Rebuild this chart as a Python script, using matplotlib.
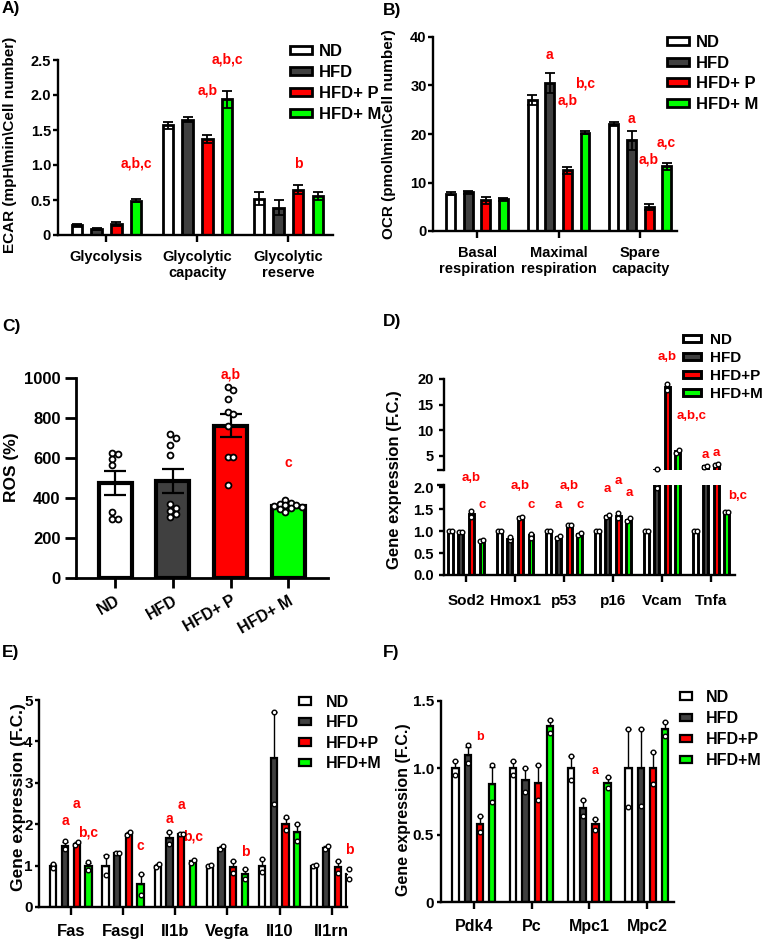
import numpy as np
import matplotlib
matplotlib.use('Agg')
import matplotlib.pyplot as plt

plt.rcParams['font.family'] = ['Liberation Sans', 'DejaVu Sans']
plt.rcParams['font.weight'] = 'bold'
plt.rcParams['axes.labelweight'] = 'bold'

# ---------------- data ----------------
groups_ab = ['ND', 'HFD', 'HFD+ P', 'HFD+ M']
groups_def = ['ND', 'HFD', 'HFD+P', 'HFD+M']
colors = ['white', '#404040', '#ff0000', '#00ff00']

# A) ECAR
ecar_cats = ['Glycolysis', 'Glycolytic\ncapacity', 'Glycolytic\nreserve']
ecar_nd = [0.14, 1.57, 0.52]
ecar_hfd = [0.08, 1.65, 0.39]
ecar_p = [0.16, 1.37, 0.65]
ecar_m = [0.49, 1.94, 0.56]
ecar_nd_err = [0.02, 0.05, 0.09]
ecar_hfd_err = [0.015, 0.04, 0.11]
ecar_p_err = [0.03, 0.06, 0.07]
ecar_m_err = [0.02, 0.12, 0.06]
ecar_notes = [('a,b,c', 0, 3, 1.02), ('a,b', 1, 2, 2.06), ('a,b,c', 1, 3, 2.5), ('b', 2, 2, 1.01)]

# B) OCR
ocr_cats = ['Basal\nrespiration', 'Maximal\nrespiration', 'Spare\ncapacity']
ocr_nd = [7.7, 27.0, 22.0]
ocr_hfd = [8.0, 30.5, 18.7]
ocr_p = [6.3, 12.5, 4.9]
ocr_m = [6.5, 20.3, 13.3]
ocr_nd_err = [0.3, 1.1, 0.4]
ocr_hfd_err = [0.3, 2.0, 1.9]
ocr_p_err = [0.8, 0.7, 0.6]
ocr_m_err = [0.3, 0.4, 0.8]
ocr_notes = [('a', 1, 1, 36.3), ('b,c', 1, 3, 30.5), ('a,b', 1, 2, 27.0),
             ('a', 2, 1, 23.0), ('a,c', 2, 3, 18.2), ('a,b', 2, 2, 14.8)]

# C) ROS
ros_means = [473, 485, 762, 360]
ros_sem = [60, 60, 57, 10]
ros_nd_pts = [625, 620, 595, 565, 330, 295, 295]
ros_hfd_pts = [720, 700, 665, 615, 370, 350, 335, 318, 305]
ros_p_pts = [955, 940, 895, 830, 820, 760, 605, 605, 465]
ros_m_pts = [390, 375, 370, 365, 365, 360, 355, 350, 345, 330]
ros_notes = [('a,b', 2, 1020), ('c', 3, 575)]

# D) gene expression, broken axis
genes_d = ['Sod2', 'Hmox1', 'p53', 'p16', 'Vcam', 'Tnfa']
d_nd = [1.0, 1.0, 1.0, 1.0, 1.0, 1.0]
d_hfd = [0.98, 0.83, 0.86, 1.34, 2.14, 2.9]
d_p = [1.4, 1.31, 1.15, 1.35, 18.5, 3.2]
d_m = [0.79, 0.9, 0.93, 1.26, 5.85, 1.44]
d_nd_pts = [[1.0, 1.0], [1.0, 1.0], [1.0, 1.0], [1.0, 1.0], [1.0, 1.0], [1.0, 1.0]]
d_hfd_pts = [[0.97, 0.99], [0.79, 0.87], [0.84, 0.88], [1.32, 1.36], [2.3, 1.98], [2.85, 2.95]]
d_p_pts = [[1.46, 1.33], [1.29, 1.33], [1.15, 1.15], [1.41, 1.3], [19.1, 17.9], [3.1, 3.3]]
d_m_pts = [[0.78, 0.8], [0.94, 0.85], [0.91, 0.96], [1.24, 1.29], [5.6, 6.1], [1.44, 1.44]]
d_notes = [('a,b', 0, 2, 2.2), ('c', 0, 3, 1.6), ('a,b', 1, 2, 2.02), ('c', 1, 3, 1.6),
           ('a', 2, 1, 1.6), ('a,b', 2, 2, 2.02), ('c', 2, 3, 1.6),
           ('a', 3, 1, 1.96), ('a', 3, 2, 2.13), ('a', 3, 3, 1.87),
           ('a,b', 4, 2, 24.3), ('a,b,c', 4, 3, 12.8),
           ('a', 5, 1, 5.1), ('a', 5, 2, 5.5), ('b,c', 5, 3, 1.8)]

# E) gene expression
genes_e = ['Fas', 'Fasgl', 'Il1b', 'Vegfa', 'Il10', 'Il1rn']
e_nd = [1.0, 1.0, 1.0, 1.0, 1.0, 1.0]
e_hfd = [1.48, 1.3, 1.67, 1.43, 3.6, 1.43]
e_p = [1.53, 1.76, 1.77, 0.97, 2.0, 0.97]
e_m = [0.98, 0.55, 1.1, 0.8, 1.8, 0.8]
e_nd_err = [0.05, 0.25, 0.03, 0.01, 0.16, 0.02]
e_hfd_err = [0.1, 0.0, 0.13, 0.04, 1.1, 0.04]
e_p_err = [0.03, 0.04, 0.0, 0.15, 0.16, 0.15]
e_m_err = [0.09, 0.25, 0.03, 0.12, 0.2, 0.12]
e_nd_pts = [[1.05, 0.95], [1.23, 0.77], [0.97, 1.03], [0.99, 1.01], [1.16, 0.84], [0.98, 1.02]]
e_hfd_pts = [[1.6, 1.4], [1.3, 1.3], [1.8, 1.53], [1.4, 1.47], [4.7, 2.5], [1.4, 1.47]]
e_p_pts = [[1.5, 1.56], [1.73, 1.8], [1.77, 1.77], [1.12, 0.82], [2.17, 1.85], [1.12, 0.82]]
e_m_pts = [[1.08, 0.9], [0.8, 0.3], [1.07, 1.13], [0.92, 0.68], [2.0, 1.6], [0.92, 0.68]]
e_notes = [('a', 0, 1, 2.08), ('a', 0, 2, 2.5), ('b,c', 0, 3, 1.8), ('c', 1, 3, 1.48),
           ('a', 2, 1, 2.12), ('a', 2, 2, 2.46), ('b,c', 2, 3, 1.7), ('b', 3, 3, 1.32),
           ('b', 5, 3, 1.38)]

# F) gene expression
genes_f = ['Pdk4', 'Pc', 'Mpc1', 'Mpc2']
f_nd = [1.0, 1.0, 1.0, 1.0]
f_hfd = [1.1, 0.91, 0.70, 1.0]
f_p = [0.58, 0.89, 0.58, 1.0]
f_m = [0.88, 1.31, 0.89, 1.29]
f_nd_err = [0.05, 0.05, 0.09, 0.29]
f_hfd_err = [0.06, 0.09, 0.06, 0.29]
f_p_err = [0.06, 0.13, 0.04, 0.12]
f_m_err = [0.13, 0.05, 0.04, 0.05]
f_nd_pts = [[1.05, 0.95], [1.05, 0.95], [1.09, 0.91], [1.29, 0.71]]
f_hfd_pts = [[1.17, 1.04], [1.0, 0.82], [0.76, 0.64], [1.29, 0.72]]
f_p_pts = [[0.64, 0.52], [1.02, 0.76], [0.62, 0.54], [1.12, 0.88]]
f_m_pts = [[1.02, 0.75], [1.36, 1.26], [0.93, 0.85], [1.34, 1.24]]
f_notes = [('b', 0, 2, 1.23), ('a', 2, 2, 0.98)]

# ---------------- figure ----------------
W, H = 765, 940
fig = plt.figure(figsize=(W / 100, H / 100), dpi=100)
OFF = np.array([-1.5, -0.5, 0.5, 1.5])


def px_axes(l, t, r, b):
    return fig.add_axes([l / W, 1 - b / H, (r - l) / W, (b - t) / H])


def style(ax, lw=1.7, tsize=10.5, ylen=3.5, ypad=1.5, xlen=5, xpad=6):
    for s in ['top', 'right']:
        ax.spines[s].set_visible(False)
    for s in ['left', 'bottom']:
        ax.spines[s].set_linewidth(lw)
    ax.tick_params(width=lw, labelsize=tsize)
    ax.tick_params(axis='y', which='both', length=ylen, pad=ypad)
    ax.tick_params(axis='x', length=xlen, pad=xpad)


def swarm_x(ax, xc, vals, step, thresh):
    pts = []
    px = ax.transData.transform((xc, 0))[0]
    for v in vals:
        py = ax.transData.transform((xc, v))[1]
        for k in [0, 1, -1, 2, -2, 3, -3, 4, -4, 5, -5]:
            cx = px + k * step
            if all((cx - qx) ** 2 + (py - qy) ** 2 >= thresh ** 2 for qx, qy in pts):
                break
        pts.append((cx, py))
    xs = np.array([p[0] for p in pts])
    xs = xs - ((xs.max() + xs.min()) / 2 - px)
    inv = ax.transData.inverted()
    return [inv.transform((x, 0))[0] for x in xs]


def grouped(ax, series, step, width, lw, errs=None, both=True, cap=3.5, elw=1.3,
            pts=None, ms=11, mlw=1.0):
    bars = []
    n = len(series[0])
    x = np.arange(n)
    for g, vals in enumerate(series):
        xg = x + OFF[g] * step
        b = ax.bar(xg, vals, width, color=colors[g], edgecolor='black', linewidth=lw, zorder=2)
        bars.append(b)
        if errs is not None:
            e = np.array(errs[g])
            yerr = [e, e] if both else [np.zeros_like(e), e]
            ax.errorbar(xg, vals, yerr=yerr, fmt='none', ecolor='black', elinewidth=elw,
                        capsize=cap, capthick=elw, zorder=3)
        if pts is not None:
            lo, hi = ax.get_ylim()
            for i in range(n):
                pv = [v for v in pts[g][i] if lo <= v <= hi]
                if not pv:
                    continue
                xs = swarm_x(ax, xg[i], pv, 3.0, 3.0)
                ax.scatter(xs, pv, s=ms, facecolor='white', edgecolor='black',
                           linewidth=mlw, zorder=4, clip_on=False)
    return bars


def notes(ax, items, step, size=10):
    for txt, c, g, y in items:
        ax.text(c + OFF[g] * step, y, txt, color='red', fontsize=size, ha='center',
                va='center', fontweight='bold')


def legend(ax, bars, labels, x, y, size, hl, hh, sp, tp=0.6):
    ax.legend(bars, labels, loc='upper left', bbox_to_anchor=(x / W, 1 - y / H),
              bbox_transform=fig.transFigure, frameon=False, borderpad=0, borderaxespad=0,
              handlelength=hl, handleheight=hh, labelspacing=sp, handletextpad=tp,
              prop={'size': size, 'weight': 'bold'})


# ---- A ----
axA = px_axes(58, 60, 333, 235)
axA.set_xlim(-0.533, 2.49)
axA.set_ylim(0, 2.5)
style(axA)
bA = grouped(axA, [ecar_nd, ecar_hfd, ecar_p, ecar_m], 0.216, 0.115, 2.0,
             errs=[ecar_nd_err, ecar_hfd_err, ecar_p_err, ecar_m_err], cap=3.5, elw=1.3)
axA.set_yticks([0, 0.5, 1.0, 1.5, 2.0, 2.5], ['0', '0.5', '1.0', '1.5', '2.0', '2.5'])
axA.set_xticks(range(3), ecar_cats)
notes(axA, ecar_notes, 0.216)
axA.set_ylabel('ECAR (mpH\\min\\Cell number)', fontsize=11)
axA.yaxis.set_label_coords(17 / W, 1 - 145 / H, transform=fig.transFigure)
legend(axA, bA, groups_ab, 290, 44, 12, 1.3, 0.35, 0.36, 0.45)

# ---- B ----
axB = px_axes(433, 37, 677, 231)
axB.set_xlim(-0.54, 2.45)
axB.set_ylim(0, 40)
style(axB, ypad=1)
bB = grouped(axB, [ocr_nd, ocr_hfd, ocr_p, ocr_m], 0.215, 0.11, 2.0,
             errs=[ocr_nd_err, ocr_hfd_err, ocr_p_err, ocr_m_err], cap=3.5, elw=1.3)
axB.set_yticks([0, 10, 20, 30, 40])
axB.set_xticks(range(3), ocr_cats)
notes(axB, ocr_notes, 0.215)
axB.set_ylabel('OCR (pmol\\min\\Cell number)', fontsize=11)
axB.yaxis.set_label_coords(396 / W, 1 - 134 / H, transform=fig.transFigure)
legend(axB, bB, groups_ab, 667, 35, 12, 1.3, 0.35, 0.34, 0.45)

# ---- C ----
axC = px_axes(76, 378, 328, 578)
axC.set_xlim(-0.68, 3.69)
axC.set_ylim(0, 1000)
style(axC, lw=2.0, tsize=12, ylen=8, ypad=3, xlen=7, xpad=4)
xc = np.arange(4)
axC.bar(xc, ros_means, 0.57, color=colors, edgecolor='black', linewidth=3, zorder=2)
axC.errorbar(xc, ros_means, yerr=ros_sem, fmt='none', ecolor='black', elinewidth=1.6,
             capsize=8, capthick=1.6, zorder=3)
for i, p in enumerate([ros_nd_pts, ros_hfd_pts, ros_p_pts, ros_m_pts]):
    xs = swarm_x(axC, i, p, 5.5, 4.5)
    axC.scatter(xs, p, s=18, facecolor='white', edgecolor='black', linewidth=1.3,
                zorder=4, clip_on=False)
for txt, g, y in ros_notes:
    axC.text(g, y, txt, color='red', fontsize=10, ha='center', va='center')
axC.set_yticks(range(0, 1001, 200))
axC.set_xticks(xc, groups_ab, rotation=30, ha='right', rotation_mode='anchor', fontsize=11.5)
axC.set_ylabel('ROS (%)', fontsize=12.5)
axC.yaxis.set_label_coords(19 / W, 1 - 467 / H, transform=fig.transFigure)

# ---- D ----
axDt = px_axes(444, 379, 735, 470)
axDb = px_axes(444, 485, 735, 575)
for ax in (axDt, axDb):
    ax.set_xlim(-0.45, 5.49)
    style(ax, tsize=10.5, ylen=3.5, ypad=4, xlen=5, xpad=9)
axDt.set_ylim(2.2, 20)
axDb.set_ylim(0, 2.05)
axDt.spines['bottom'].set_visible(False)
axDt.set_xticks([])
axDt.set_yticks([5, 10, 15, 20])
axDt.set_yticks([2.2], minor=True)
axDb.set_yticks([0, 0.5, 1.0, 1.5, 2.0], ['0.0', '0.5', '1.0', '1.5', '2.0'])
axDb.set_yticks([2.05], minor=True)
for ax in (axDt, axDb):
    ax.tick_params(which='minor', width=1.7, length=5)
bD = None
for ax in (axDt, axDb):
    b = grouped(ax, [d_nd, d_hfd, d_p, d_m], 0.215, 0.095, 2.1,
                pts=[d_nd_pts, d_hfd_pts, d_p_pts, d_m_pts], ms=11, mlw=1.0)
    bD = bD or b
axDb.set_xticks(range(6), genes_d, fontsize=11)
for txt, c, g, y in d_notes:
    ax = axDt if y > 2.5 else axDb
    dx = {('a,b,c', 4): 10, ('b,c', 5): 8}.get((txt, c), 0)
    ax.annotate(txt, (c + OFF[g] * 0.215, y), xytext=(dx, 0), textcoords='offset points',
                color='red', fontsize=9.5, ha='center', va='center', annotation_clip=False)
fig.text(402 / W, 1 - 480 / H, 'Gene expression (F.C.)', rotation=90, ha='right',
         va='center', fontsize=12)
legend(axDt, bD, groups_def, 683, 333, 11, 1.15, 0.3, 0.26)

# ---- E ----
axE = px_axes(39, 700, 347, 907)
axE.set_xlim(-0.61, 5.29)
axE.set_ylim(0, 5)
style(axE, tsize=11, ylen=3, ypad=1.5, xlen=5.5, xpad=7)
bE = grouped(axE, [e_nd, e_hfd, e_p, e_m], 0.224, 0.12, 1.6,
             errs=[e_nd_err, e_hfd_err, e_p_err, e_m_err], both=False, cap=2.5, elw=1.0,
             pts=[e_nd_pts, e_hfd_pts, e_p_pts, e_m_pts], ms=11, mlw=1.0)
axE.set_yticks(range(6))
axE.set_xticks(range(6), genes_e, fontsize=12)
notes(axE, e_notes, 0.224, size=10)
axE.set_ylabel('Gene expression (F.C.)', fontsize=12.5)
axE.yaxis.set_label_coords(26 / W, 1 - 797 / H, transform=fig.transFigure)
legend(axE, bE, groups_def, 299, 695, 11.5, 0.75, 0.35, 0.34, 0.95)

# ---- F ----
axF = px_axes(441, 701, 674, 902)
axF.set_xlim(-0.57, 3.47)
axF.set_ylim(0, 1.5)
style(axF, tsize=11, ylen=3, ypad=2, xlen=5, xpad=7)
bF = grouped(axF, [f_nd, f_hfd, f_p, f_m], 0.213, 0.11, 1.6,
             errs=[f_nd_err, f_hfd_err, f_p_err, f_m_err], both=False, cap=2.5, elw=1.0,
             pts=[f_nd_pts, f_hfd_pts, f_p_pts, f_m_pts], ms=11, mlw=1.0)
axF.set_yticks([0, 0.5, 1.0, 1.5], ['0', '0.5', '1.0', '1.5'])
axF.set_xticks(range(4), genes_f, fontsize=11.5)
notes(axF, f_notes, 0.213, size=9)
axF.set_ylabel('Gene expression (F.C.)', fontsize=11.5)
axF.yaxis.set_label_coords(411 / W, 1 - 810 / H, transform=fig.transFigure)
legend(axF, bF, groups_def, 680, 690, 11.5, 0.75, 0.35, 0.38, 0.85)

# panel letters
for lab, x, y in [('A)', 2, 9), ('B)', 383, 10), ('C)', 2, 326), ('D)', 383, 321),
                  ('E)', 2, 653), ('F)', 383, 652)]:
    fig.text(x / W, 1 - y / H, lab, fontsize=12.5, fontweight='bold', va='center')

fig.savefig('out.png', dpi=100)
